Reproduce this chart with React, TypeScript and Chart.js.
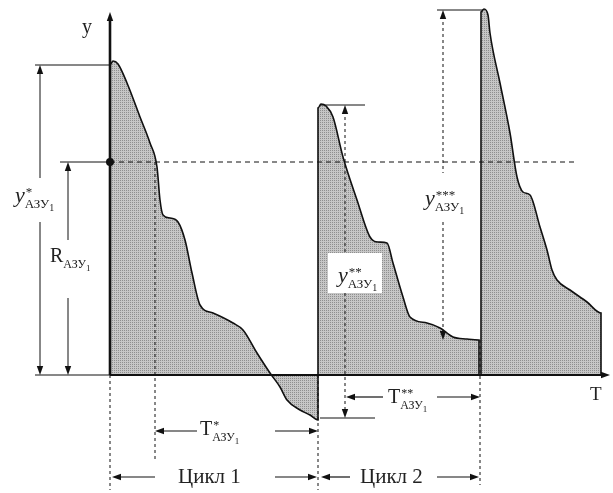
import React, { useEffect, useRef } from "react";
import { Chart, registerables } from "chart.js";

Chart.register(...registerables);

// Time (T) and signal (y) values; origin where the axes cross
const cycle1T = [0, 0, 3, 8, 17, 30, 40, 47, 50, 53, 60, 68, 75, 82, 90, 103, 123, 133, 147, 160, 170, 177, 190, 200, 208, 208];
const cycle1Y = [0, 310, 314, 311, 292, 258, 232, 208, 175, 160, 157, 153, 135, 102, 70, 62, 52, 45, 22, 2, -12, -25, -35, -40, -45, 0];

const cycle2T = [208, 208, 211, 216, 223, 233, 247, 260, 268, 277, 283, 293, 300, 317, 330, 343, 357, 369, 369];
const cycle2Y = [0, 267, 271, 269, 258, 218, 175, 138, 133, 132, 112, 78, 58, 52, 47, 38, 36, 35, 0];

const cycle3T = [371, 371, 374, 378, 380, 390, 400, 407, 413, 420, 430, 437, 442, 447, 460, 477, 491, 491];
const cycle3Y = [0, 363, 366, 360, 342, 292, 242, 198, 183, 180, 148, 125, 105, 95, 85, 73, 62, 0];

const thresholdR = 213; // R level (dashed horizontal)
const cycleStarts = [0, 208, 370]; // start of cycle 1, cycle 2, cycle 3
const cycleLabels = ["Цикл 1", "Цикл 2"];

const FONT = '"Liberation Serif", "Times New Roman", serif';

function toPoints(t: number[], y: number[]) {
  return t.map((v, i) => ({ x: v, y: y[i] }));
}

function makePattern(): CanvasPattern | string {
  const pc = document.createElement("canvas");
  pc.width = 2;
  pc.height = 2;
  const c = pc.getContext("2d");
  if (!c) return "#b8b8b8";
  c.fillStyle = "#c6c6c6";
  c.fillRect(0, 0, 2, 2);
  c.fillStyle = "#8e8e8e";
  c.fillRect(0, 0, 1, 1);
  const p = c.createPattern(pc, "repeat");
  return p || "#b8b8b8";
}

function head(ctx: CanvasRenderingContext2D, x: number, y: number, dx: number, dy: number) {
  const L = 9, W = 3.2;
  ctx.beginPath();
  ctx.moveTo(x, y);
  ctx.lineTo(x - dx * L - dy * W, y - dy * L + dx * W);
  ctx.lineTo(x - dx * L + dy * W, y - dy * L - dx * W);
  ctx.closePath();
  ctx.fill();
}

function seg(ctx: CanvasRenderingContext2D, x1: number, y1: number, x2: number, y2: number, dash: number[] = [], w = 1) {
  ctx.save();
  ctx.setLineDash(dash);
  ctx.lineWidth = w;
  ctx.beginPath();
  ctx.moveTo(x1, y1);
  ctx.lineTo(x2, y2);
  ctx.stroke();
  ctx.restore();
}

function sym(ctx: CanvasRenderingContext2D, px: number, py: number, main: string, italic: boolean, mark: string, size: number) {
  ctx.save();
  ctx.fillStyle = "#222";
  ctx.textAlign = "left";
  ctx.textBaseline = "alphabetic";
  ctx.font = `${italic ? "italic " : ""}${size}px ${FONT}`;
  ctx.fillText(main, px, py);
  const w = ctx.measureText(main).width;
  const ss = Math.round(size * 0.6);
  ctx.font = `${ss}px ${FONT}`;
  ctx.fillText("АЗУ", px + w, py + 6);
  const sw = ctx.measureText("АЗУ").width;
  if (mark) {
    ctx.font = `${ss}px ${FONT}`;
    ctx.fillText(mark, px + w + 1, py - 6);
  }
  ctx.font = `${Math.round(size * 0.45)}px ${FONT}`;
  ctx.fillText("1", px + w + sw, py + 9);
  ctx.restore();
}

const diagramPlugin = {
  id: "diagram",
  afterDatasetsDraw(chart: any) {
    const ctx: CanvasRenderingContext2D = chart.ctx;
    const xs = chart.scales.x, ys = chart.scales.y;
    const X = (v: number) => xs.getPixelForValue(v);
    const Y = (v: number) => ys.getPixelForValue(v);
    const dash = [5, 4];
    const [c1, c2, c3] = cycleStarts;
    ctx.save();
    ctx.strokeStyle = "#111";
    ctx.fillStyle = "#111";

    // dashed guide lines
    seg(ctx, X(0), Y(thresholdR), X(465), Y(thresholdR), dash);
    seg(ctx, X(c1), Y(0), X(c1), Y(-115), [3, 3]);
    seg(ctx, X(45), Y(thresholdR), X(45), Y(-87), [3, 3]);
    seg(ctx, X(c2), Y(0), X(c2), Y(-115), [3, 3]);
    seg(ctx, X(c3), Y(35), X(c3), Y(-110), [3, 3]);

    // solid reference ticks
    seg(ctx, X(-75), Y(310), X(0), Y(310));
    seg(ctx, X(-75), Y(0), X(0), Y(0));
    seg(ctx, X(-50), Y(thresholdR), X(0), Y(thresholdR));
    seg(ctx, X(210), Y(270), X(255), Y(270));
    seg(ctx, X(210), Y(-43), X(265), Y(-43));
    seg(ctx, X(327), Y(365), X(373), Y(365));

    // axes
    seg(ctx, X(0), Y(0), X(0), Y(355), [], 2.6);
    head(ctx, X(0), Y(363), 0, -1);
    seg(ctx, X(0), Y(0), X(492), Y(0), [], 2);
    head(ctx, X(500), Y(0), 1, 0);
    ctx.beginPath();
    ctx.arc(X(0), Y(thresholdR), 4, 0, Math.PI * 2);
    ctx.fill();

    // vertical double arrows with label gap
    const vArrow = (x: number, top: number, bot: number, g1: number, g2: number, d: number[]) => {
      seg(ctx, X(x), Y(top) + 6, X(x), Y(g1), d);
      seg(ctx, X(x), Y(g2), X(x), Y(bot) - 6, d);
      head(ctx, X(x), Y(top), 0, -1);
      head(ctx, X(x), Y(bot), 0, 1);
    };
    vArrow(-70, 310, 0, 197, 153, []);
    vArrow(-42, 213, 0, 135, 77, []);
    vArrow(235, 270, -43, 122, 82, [3, 3]);
    vArrow(333, 365, 35, 202, 153, [3, 3]);

    // horizontal double arrows with label gap
    const hArrow = (y: number, l: number, r: number, g1: number, g2: number) => {
      seg(ctx, X(l) + 6, Y(y), X(g1), Y(y), [], 1.2);
      seg(ctx, X(g2), Y(y), X(r) - 6, Y(y), [], 1.2);
      head(ctx, X(l), Y(y), -1, 0);
      head(ctx, X(r), Y(y), 1, 0);
    };
    hArrow(-56, 45, c2, 87, 165);
    hArrow(-22, 236, c3, 273, 327);
    hArrow(-102, c1 + 2, c2 - 1, 45, 165);
    hArrow(-102, c2 + 3, c3 - 1, 240, 327);

    // white label box for y**
    ctx.fillStyle = "#fff";
    ctx.fillRect(X(218), Y(122), X(272) - X(218), Y(82) - Y(122));

    // labels
    ctx.fillStyle = "#222";
    ctx.font = `20px ${FONT}`;
    ctx.textAlign = "left";
    ctx.fillText("y", X(-28), Y(342));
    ctx.font = `19px ${FONT}`;
    ctx.fillText("T", X(480), Y(-25));
    sym(ctx, X(-95), Y(173), "y", true, "*", 22);
    sym(ctx, X(-60), Y(113), "R", false, "", 20);
    sym(ctx, X(228), Y(93), "y", true, "**", 22);
    sym(ctx, X(315), Y(170), "y", true, "***", 22);
    sym(ctx, X(90), Y(-60), "T", false, "*", 20);
    sym(ctx, X(278), Y(-28), "T", false, "**", 20);
    ctx.font = `21px ${FONT}`;
    ctx.fillStyle = "#222";
    ctx.fillText(cycleLabels[0], X(68), Y(-108));
    ctx.fillText(cycleLabels[1], X(250), Y(-108));
    ctx.restore();
  },
};

export default function App() {
  const ref = useRef<HTMLCanvasElement | null>(null);
  useEffect(() => {
    document.body.style.margin = "0";
    if (!ref.current) return;
    const fill = makePattern();
    const ds = (t: number[], y: number[]) => ({
      data: toPoints(t, y),
      borderColor: "#111",
      borderWidth: 1.6,
      pointRadius: 0,
      cubicInterpolationMode: "monotone",
      fill: "origin",
      backgroundColor: fill,
      clip: false as any,
    });
    const chart = new Chart(ref.current, {
      type: "line",
      data: {
        datasets: [ds(cycle1T, cycle1Y), ds(cycle2T, cycle2Y), ds(cycle3T, cycle3Y)] as any,
      },
      options: {
        animation: false,
        responsive: false,
        layout: { padding: 0 },
        plugins: { legend: { display: false }, tooltip: { enabled: false } },
        scales: {
          x: { type: "linear", min: -110, max: 503, display: false },
          y: { type: "linear", min: -118, max: 375, display: false },
        },
      },
      plugins: [diagramPlugin],
    });
    return () => chart.destroy();
  }, []);
  return <canvas ref={ref} width={613} height={493} style={{ display: "block" }} />;
}
